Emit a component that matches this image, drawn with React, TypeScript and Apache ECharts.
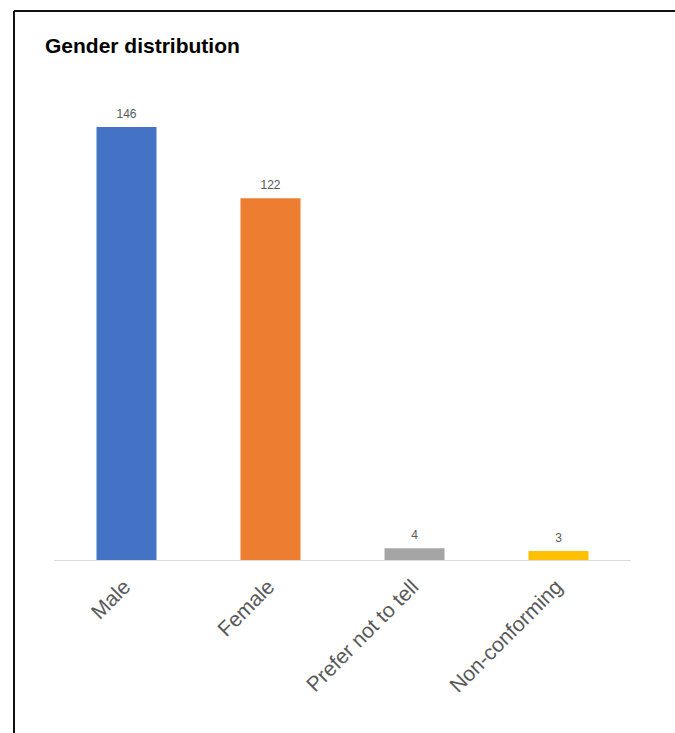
import React, { useEffect, useRef } from "react";
import * as echarts from "echarts";

const categories = ["Male", "Female", "Prefer not to tell", "Non-conforming"];
const values = [146, 122, 4, 3];
const colors = ["#4472C4", "#ED7D31", "#A5A5A5", "#FFC000"];
const titleText = "Gender distribution";

export default function App() {
  const ref = useRef<HTMLDivElement>(null);
  useEffect(() => {
    if (!ref.current) return;
    const chart = echarts.init(ref.current, null, { renderer: "svg" });
    chart.setOption({
      animation: false,
      backgroundColor: "#ffffff",
      title: {
        text: titleText,
        left: 40,
        top: 30,
        textStyle: {
          fontFamily: "Liberation Sans",
          fontWeight: "bold",
          fontSize: 21,
          color: "#000000",
        },
      },
      graphic: [
        {
          type: "line",
          shape: { x1: 14, y1: 11, x2: 675, y2: 11 },
          style: { stroke: "#111111", lineWidth: 2 },
        },
        {
          type: "line",
          shape: { x1: 14, y1: 11, x2: 14, y2: 733 },
          style: { stroke: "#111111", lineWidth: 2 },
        },
      ],
      grid: { left: 54.5, right: 44.5, top: 85.5, bottom: 173 },
      xAxis: {
        type: "category",
        data: categories,
        axisLine: { show: true, lineStyle: { color: "#d9d9d9", width: 1 } },
        axisTick: { show: false },
        axisLabel: {
          rotate: 45,
          interval: 0,
          margin: 23,
          fontFamily: "Liberation Sans",
          fontSize: 21,
          color: "#595959",
        },
      },
      yAxis: {
        type: "value",
        min: 0,
        max: 160,
        show: false,
        splitLine: { show: false },
      },
      series: [
        {
          type: "bar",
          barWidth: 60,
          data: values.map((v, i) => ({ value: v, itemStyle: { color: colors[i] } })),
          label: {
            show: true,
            position: "top",
            distance: 7,
            fontFamily: "Liberation Sans",
            fontSize: 12,
            color: "#595959",
          },
        },
      ],
    });
    return () => chart.dispose();
  }, []);
  return (
    <div
      ref={ref}
      style={{ position: "absolute", left: 0, top: 0, width: 675, height: 733 }}
    />
  );
}
